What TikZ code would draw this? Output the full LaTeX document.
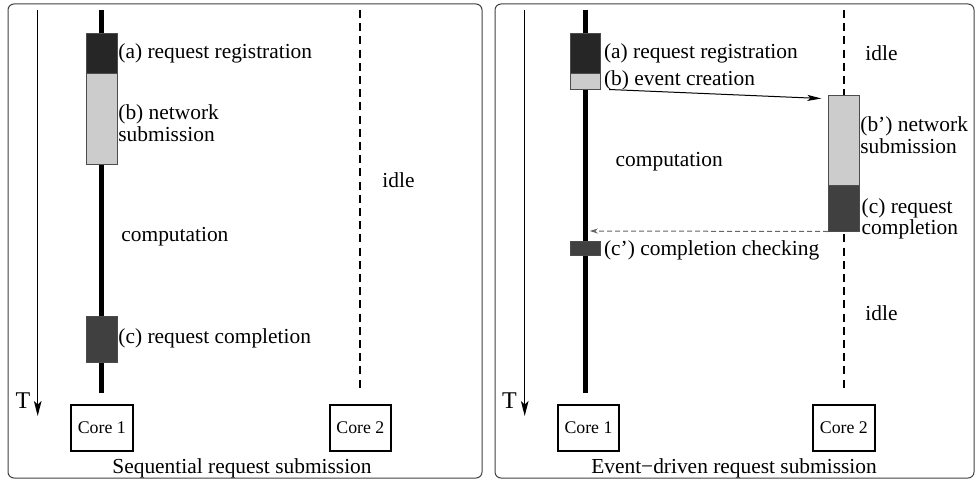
\documentclass[tikz,border=0pt]{standalone}
\usepackage{fontspec}
\setmainfont{Liberation Serif}
\usetikzlibrary{arrows.meta,fit}
\definecolor{regc}{HTML}{262626}
\definecolor{subc}{HTML}{CCCCCC}
\definecolor{compc}{HTML}{404040}
\begin{document}
\begin{tikzpicture}[x=0.5pt,y=-0.5pt,
  panel/.style={draw=black!75,line width=0.5pt,rounded corners=3pt},
  axis/.style={line width=0.7pt,-{Stealth[length=7.5pt,width=3.8pt,inset=1.8pt]}},
  coreline/.style={line width=2.5pt},
  idleline/.style={line width=0.8pt,dash pattern=on 4pt off 2.6pt},
  phase/.style={draw=black!70,line width=0.5pt,inner sep=0pt},
  corebox/.style={draw,line width=1pt,inner sep=0pt},
  corelbl/.style={inner sep=0pt,font=\fontsize{8.9}{10}\selectfont},
  lbl/.style={anchor=west,inner sep=0pt,font=\fontsize{10.7}{9.6}\selectfont,align=left},
  captext/.style={inner sep=0pt,font=\fontsize{10.7}{12}\selectfont},
  msg/.style={line width=0.5pt,-{Stealth[length=7pt,width=3pt,inset=1.5pt]}},
  reply/.style={draw=black!60,line width=0.5pt,dash pattern=on 2.5pt off 1.5pt,-{Stealth[length=4pt,width=2.5pt]}}]
\useasboundingbox (0,0) rectangle (977,481);
% ---------------- left panel ----------------
\draw[panel] (8,4) rectangle (482,478);
\coordinate (LTt) at (37.7,10); \coordinate (LTb) at (37.7,416);
\draw[axis] (LTt) -- (LTb);
\node[captext,font=\fontsize{12}{12}\selectfont] (LT) at (23,401) {T};
\coordinate (L1t) at (101.7,10); \coordinate (L1b) at (101.7,392.7);
\draw[coreline] (L1t) -- (L1b);
\coordinate (L2t) at (360,10); \coordinate (L2b) at (360,390);
\draw[idleline] (L2t) -- (L2b);
\node[phase,fill=regc,fit={(86.3,33.7)(117.3,73.7)}] (La) {};
\node[phase,fill=subc,fit={(86.3,73.7)(117.3,164.7)}] (Lb) {};
\node[phase,fill=compc,fit={(86.3,316.7)(117.3,362.7)}] (Lc) {};
\node[corebox,fit={(71,404.7)(132.7,451)}] (LC1) {};
\node[corelbl] (LC1t) at (LC1.center) {Core 1};
\node[corebox,fit={(329.7,404.7)(391,451)}] (LC2) {};
\node[corelbl] (LC2t) at (LC2.center) {Core 2};
\node[lbl] (Lla) at (118,53) {(a) request registration};
\node[lbl] (Llb) at (118,123) {(b) network\\submission};
\node[lbl] (Lidle) at (382,180) {idle};
\node[lbl] (Lcomp) at (121,237) {computation};
\node[lbl] (Llc) at (118,338) {(c) request completion};
\node[captext] (Lcap) at (242,468) {Sequential request submission};
% ---------------- right panel ----------------
\draw[panel] (495,4) rectangle (974,478);
\coordinate (RTt) at (524.7,10); \coordinate (RTb) at (524.7,416);
\draw[axis] (RTt) -- (RTb);
\node[captext,font=\fontsize{12}{12}\selectfont] (RT) at (509.5,401) {T};
\coordinate (R1t) at (585.3,10); \coordinate (R1b) at (585.3,392.7);
\draw[coreline] (R1t) -- (R1b);
\coordinate (R2t) at (843.7,10); \coordinate (R2b) at (843.7,390);
\draw[idleline] (R2t) -- (R2b);
\node[phase,fill=regc,fit={(570.3,33.7)(600.7,73.7)}] (Ra) {};
\node[phase,fill=subc,fit={(570.3,73.7)(600.7,89)}] (Rb) {};
\node[phase,fill=subc,fit={(828.7,95)(859.3,185.7)}] (Rbp) {};
\node[phase,fill=compc,fit={(828.7,185.7)(859.3,231)}] (Rc) {};
\node[phase,fill=compc,fit={(570.3,241)(600.7,255.7)}] (Rcp) {};
\coordinate (Rcend) at (589.8,231);
\draw[msg] ([xshift=4pt]Rb.south east) -- ([shift={(-3.4pt,-2pt)}]Rbp.north west);
\draw[reply] (Rc.south west) -- (Rcend);
\node[corebox,fit={(557.7,404.7)(619.3,451)}] (RC1) {};
\node[corelbl] (RC1t) at (RC1.center) {Core 1};
\node[corebox,fit={(813,404.7)(874.7,451)}] (RC2) {};
\node[corelbl] (RC2t) at (RC2.center) {Core 2};
\node[lbl] (Rla) at (603.7,53) {(a) request registration};
\node[lbl] (Rlb) at (603.7,80) {(b) event creation};
\node[lbl] (Ridle1) at (865,53) {idle};
\node[lbl] (Rlbp) at (860,135) {(b’) network\\submission};
\node[lbl] (Rcomp) at (615.3,161.7) {computation};
\node[lbl] (Rlc) at (861.3,219) {(c) request\\completion};
\node[lbl] (Rlcp) at (603.7,250) {(c’) completion checking};
\node[lbl] (Ridle2) at (865,313) {idle};
\node[captext] (Rcap) at (734,468) {Event−driven request submission};
\end{tikzpicture}
\end{document}
